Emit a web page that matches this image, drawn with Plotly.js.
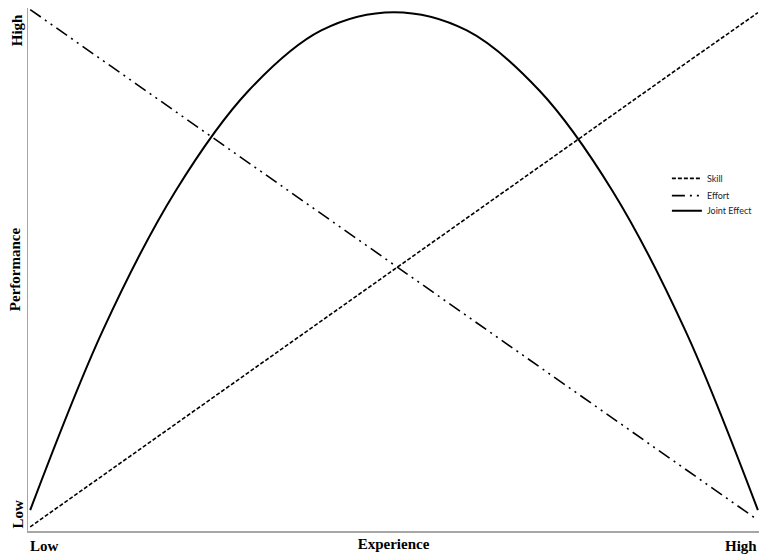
<!DOCTYPE html>
<html>
<head>
<meta charset="utf-8">
<script src="https://cdn.plot.ly/plotly-3.0.1.min.js"></script>
<style>html,body{margin:0;padding:0;background:#fff;}#chart{width:759px;height:555px;}</style>
</head>
<body>
<div id="chart"></div>
<script>
// Experience positions (0 = Low, 10 = High)
const experience = [0, 1, 2, 3, 4, 5, 6, 7, 8, 9, 10];
// Performance values
const skill = [0.08, 1.07, 2.06, 3.05, 4.04, 5.03, 6.02, 7.01, 8.0, 8.98, 9.96];
const effort = [10.02, 9.04, 8.06, 7.08, 6.10, 5.12, 4.14, 3.16, 2.18, 1.2, 0.21];
const joint = [0.4, 3.86, 6.54, 8.46, 9.62, 9.97, 9.62, 8.46, 6.54, 3.86, 0.4];
const seriesNames = ["Skill", "Effort", "Joint Effect"];
const yTickLabels = ["Low", "High"];
const xTickLabels = ["Low", "High"];

const serif = "Liberation Serif, Times New Roman, serif";

const traces = [
  {x: experience, y: skill, name: seriesNames[0], mode: "lines", legend: "legend",
   line: {color: "#000", width: 1.6, dash: "4px,2px"}},
  {x: experience, y: effort, name: seriesNames[1], mode: "lines", legend: "legend2",
   line: {color: "#000", width: 1.6, dash: "13px,5px,2px,5px,2px,5px"}},
  {x: experience, y: joint, name: seriesNames[2], mode: "lines", legend: "legend3",
   line: {color: "#000", width: 2, shape: "spline", smoothing: 1}}
];

const annFont = {family: serif, size: 15, color: "#000", weight: "bold"};
const legFont = {family: "Lato, Liberation Sans, sans-serif", size: 9, color: "#262626"};
function leg(y) {
  return {x: 0.874, y: y, xanchor: "left", yanchor: "top", font: legFont,
          itemwidth: 30, bgcolor: "rgba(0,0,0,0)", borderwidth: 0};
}
const layout = {
  width: 759, height: 555,
  margin: {l: 28, r: 0, t: 8, b: 24},
  paper_bgcolor: "#fff", plot_bgcolor: "#fff",
  showlegend: true,
  legend: leg(0.702),
  legend2: leg(0.669),
  legend3: leg(0.640),
  xaxis: {range: [-0.03, 10.015], showgrid: false, zeroline: false,
          showticklabels: false, ticks: "", showline: true, linecolor: "#a6a6a6", linewidth: 1.5,
          title: {text: "Experience", font: annFont, standoff: 7}, fixedrange: true},
  yaxis: {range: [0, 10.05], showgrid: false, zeroline: false,
          showticklabels: false, ticks: "", showline: true, linecolor: "#a6a6a6", linewidth: 1.5,
          title: {text: "Performance", font: annFont, standoff: 2}, fixedrange: true},
  annotations: [
    {text: xTickLabels[0], xref: "paper", yref: "paper", x: 0.0, y: -0.029,
     xanchor: "left", yanchor: "middle", showarrow: false, font: annFont},
    {text: xTickLabels[1], xref: "paper", yref: "paper", x: 1.0, y: -0.029,
     xanchor: "right", yanchor: "middle", showarrow: false, font: annFont},
    {text: yTickLabels[0], xref: "paper", yref: "paper", x: -0.015, y: 0.0,
     xanchor: "center", yanchor: "bottom", textangle: -90, showarrow: false, font: annFont},
    {text: yTickLabels[1], xref: "paper", yref: "paper", x: -0.015, y: 0.992,
     xanchor: "center", yanchor: "top", textangle: -90, showarrow: false, font: annFont}
  ]
};

Plotly.newPlot("chart", traces, layout, {displayModeBar: false, staticPlot: true});
</script>
</body>
</html>
